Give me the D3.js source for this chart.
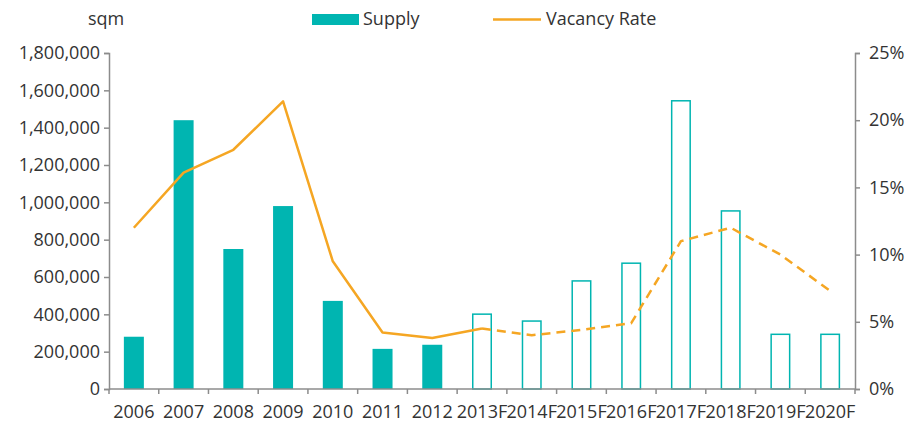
<!DOCTYPE html>
<html><head><meta charset="utf-8">
<script src="https://cdn.jsdelivr.net/npm/d3@7"></script>
<style>
body{margin:0;background:#fff;}
svg text{font-family:"Open Sans","Segoe UI",sans-serif;fill:#333;}
</style></head>
<body><svg id="c" width="923" height="423"></svg>
<script>
const categories = ["2006","2007","2008","2009","2010","2011","2012","2013F","2014F","2015F","2016F","2017F","2018F","2019F","2020F"];
const supply = [280000,1440000,750000,980000,472000,215000,237000,405000,368000,583000,678000,1548000,958000,297000,297000];
const forecast = [false,false,false,false,false,false,false,true,true,true,true,true,true,true,true];
const vacancy = [0.120,0.161,0.178,0.214,0.095,0.042,0.038,0.045,0.040,0.044,0.049,0.110,0.120,0.100,0.073];
const leftTicks = [0,200000,400000,600000,800000,1000000,1200000,1400000,1600000,1800000];
const rightTicks = [0,0.05,0.10,0.15,0.20,0.25];

const svg = d3.select("#c");
const L = 109, R = 855, T = 53, B = 389;
const teal = "#00B5B1", orange = "#F5A623", axisCol = "#8c8c8c";
const FS = "18px";

const xb = d3.scaleBand().domain(categories).range([L, R]);
const yL = d3.scaleLinear().domain([0, 1800000]).range([B, T]);
const yR = d3.scaleLinear().domain([0, 0.25]).range([B, T]);

// bars
svg.selectAll("rect.bar").data(categories).enter().append("rect")
  .attr("class","bar")
  .attr("x", (d,i) => xb(d) + xb.bandwidth()/2 - 10 + (forecast[i]?0.75:0))
  .attr("width", (d,i) => forecast[i] ? 18.5 : 20)
  .attr("y", (d,i) => yL(supply[i]) + (forecast[i]?0.75:0))
  .attr("height", (d,i) => B - yL(supply[i]) - (forecast[i]?0.75:0))
  .attr("fill", (d,i) => forecast[i] ? "#fff" : teal)
  .attr("stroke", (d,i) => forecast[i] ? teal : "none")
  .attr("stroke-width", 1.5);

// axes
const fmt = d3.format(",");
const gl = svg.append("g").attr("transform", `translate(${L},0)`)
  .call(d3.axisLeft(yL).tickValues(leftTicks).tickFormat(fmt).tickSize(5).tickPadding(4));
const gr = svg.append("g").attr("transform", `translate(${R},0)`)
  .call(d3.axisRight(yR).tickValues(rightTicks).tickFormat(d3.format(".0%")).tickSize(5).tickPadding(9));
const gb = svg.append("g").attr("transform", `translate(0,${B})`)
  .call(d3.axisBottom(xb).tickSize(0).tickPadding(16));
const bounds = categories.map(c => xb(c)).concat([R]);
gb.selectAll("line.bt").data(bounds).enter().append("line").attr("class","bt")
  .attr("x1", d => d).attr("x2", d => d).attr("y1", 0).attr("y2", 5);

[gl, gr, gb].forEach(g => {
  g.selectAll("path.domain").attr("stroke", axisCol).attr("stroke-width", 1.5);
  g.selectAll("line").attr("stroke", axisCol).attr("stroke-width", 1.5);
  g.selectAll("text").attr("font-size", FS).attr("fill", "#333")
    .style("font-family", '"Open Sans",sans-serif');
});
gb.select("path.domain").attr("d", `M${L},0H${R}`);
gb.selectAll(".tick text").attr("dy", "0.71em").attr("y", 16);

// line
const pts = categories.map((c,i) => [xb(c) + xb.bandwidth()/2, yR(vacancy[i])]);
const line = d3.line();
const split = categories.indexOf("2013F");
svg.append("path").attr("d", line(pts.slice(0, split+1)))
  .attr("fill","none").attr("stroke", orange).attr("stroke-width", 2.5).attr("stroke-linejoin","round");
svg.append("path").attr("d", line(pts.slice(split)))
  .attr("fill","none").attr("stroke", orange).attr("stroke-width", 2.5)
  .attr("stroke-dasharray","9,6").attr("stroke-linejoin","round");

// titles / legend
svg.append("text").attr("x", 88).attr("y", 25).attr("font-size",FS).text("sqm");
svg.append("rect").attr("x", 312).attr("y", 14).attr("width", 47).attr("height", 11).attr("fill", teal);
svg.append("text").attr("x", 363).attr("y", 25).attr("font-size",FS).text("Supply");
svg.append("line").attr("x1", 493).attr("x2", 541).attr("y1", 19.5).attr("y2", 19.5)
  .attr("stroke", orange).attr("stroke-width", 2.5);
svg.append("text").attr("x", 546).attr("y", 25).attr("font-size",FS).text("Vacancy Rate");
</script></body></html>
